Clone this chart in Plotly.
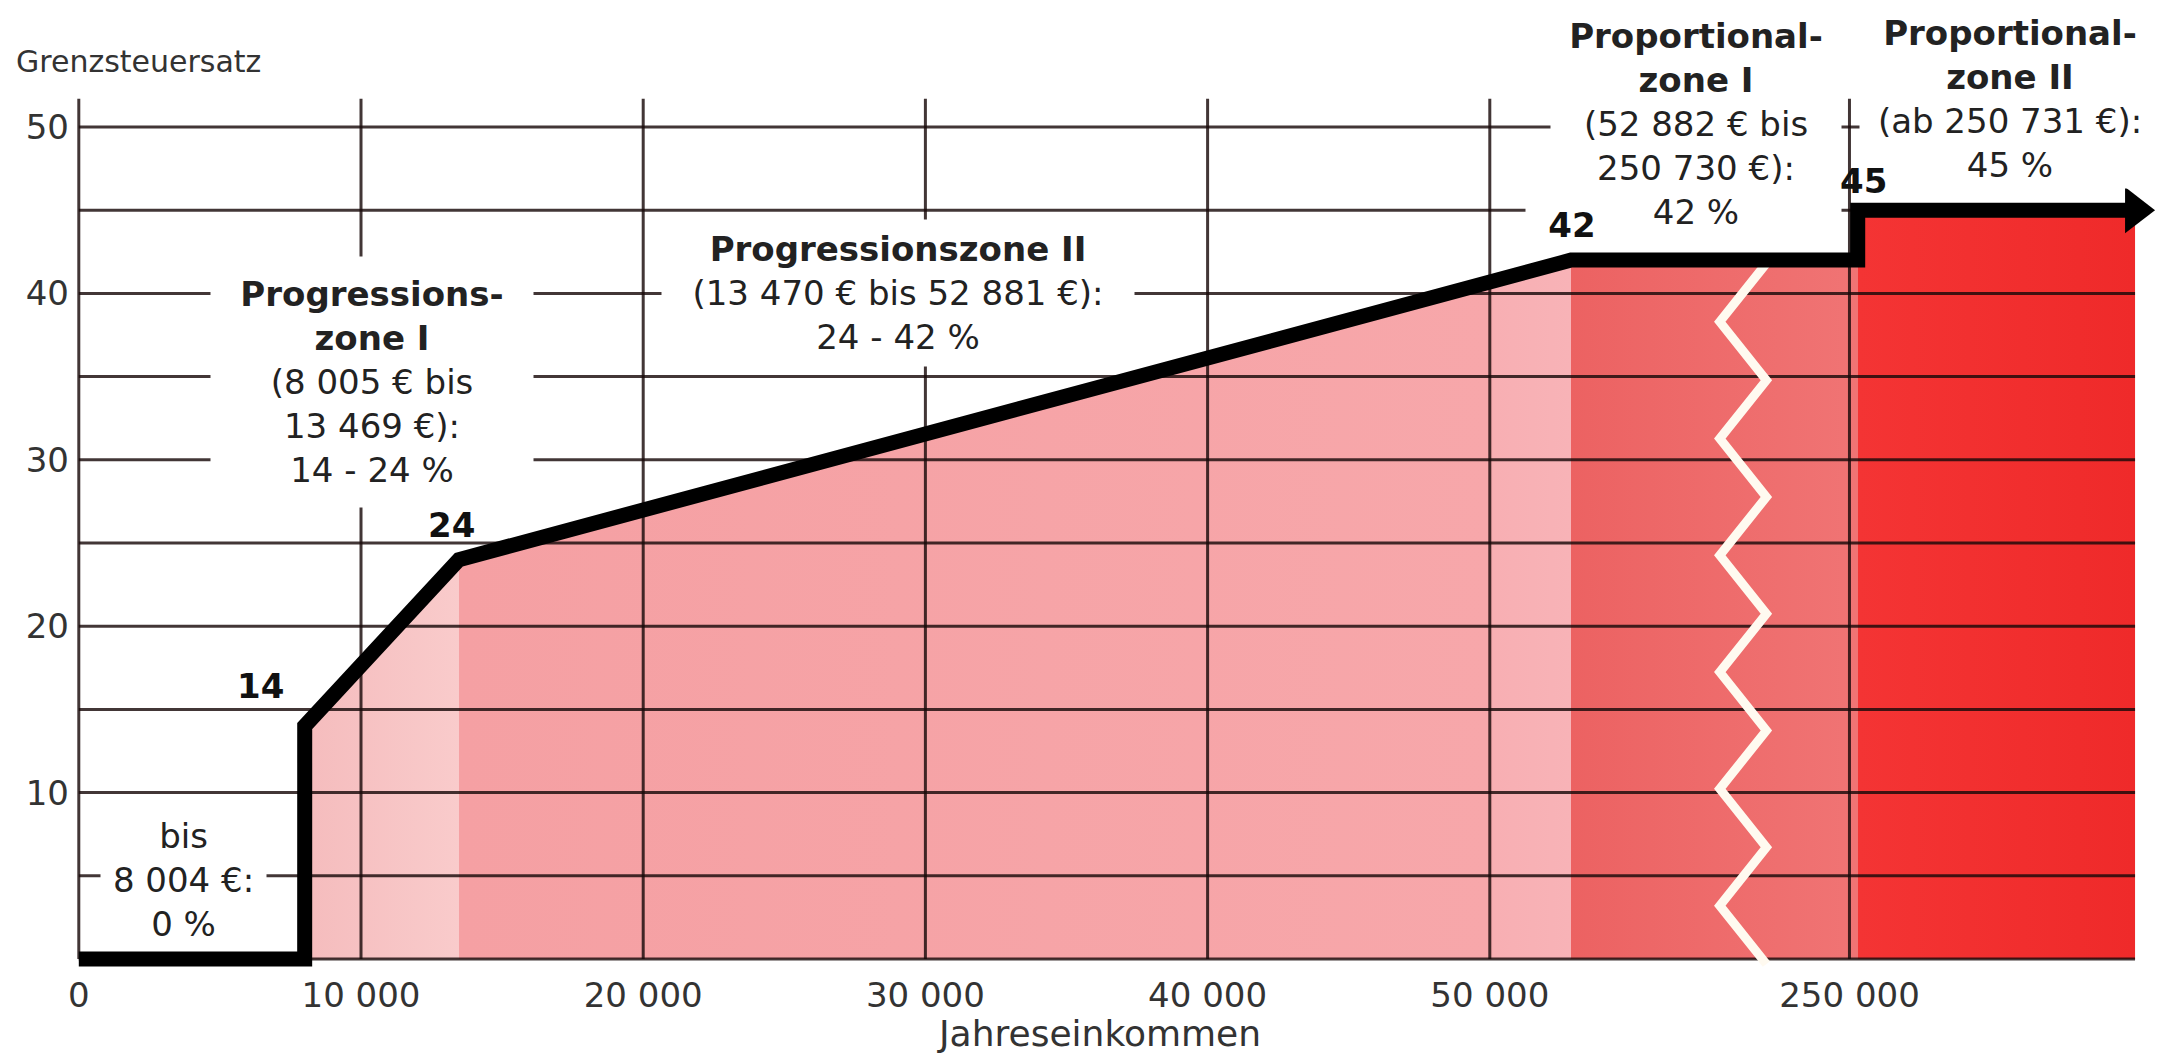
import numpy as np
import plotly.graph_objects as go

# ---------------- data ----------------
# marginal tax rate curve (income in EUR, rate in %)
income_points = [0, 8004, 8005, 13469, 52881, 250730, 250731, 275300]
rate_points = [0, 0, 14, 24, 42, 42, 45, 45]

# zone boundaries for the coloured area
zone_bounds = [8005, 13469, 50000, 52881, 250730, 250731, 275300]

# axis ticks
x_tick_values = [0, 10000, 20000, 30000, 40000, 50000, 250000]
x_tick_labels = ["0", "10 000", "20 000", "30 000", "40 000", "50 000", "250 000"]
y_tick_values = [10, 20, 30, 40, 50]
y_grid_values = [5, 10, 15, 20, 25, 30, 35, 40, 45, 50]

# value labels at the kinks
kink_labels = ["14", "24", "42", "45"]
kink_income = [8005, 13469, 52881, 250731]
kink_rate = [14, 24, 42, 45]

# ---------------- broken x axis mapping ----------------
BREAK_LO = 59000       # drawn to scale up to here
BREAK_HI = 250000      # placed right after the break
BREAK_POS_HI = 62745   # axis position of BREAK_HI
RIGHT_SCALE = 0.4


def to_axis(v):
    v = np.asarray(v, dtype=float)
    mid = BREAK_LO + (v - BREAK_LO) * (BREAK_POS_HI - BREAK_LO) / (BREAK_HI - BREAK_LO)
    right = BREAK_POS_HI + (v - BREAK_HI) * RIGHT_SCALE
    return np.where(v <= BREAK_LO, v, np.where(v <= BREAK_HI, mid, right))


X_END = float(to_axis(income_points[-1]))
GRID_TOP = 51.7

fig = go.Figure()

# ---------------- coloured area under the curve ----------------
fill_x = to_axis(income_points[2:])
fill_y = rate_points[2:]
g0, g1 = float(fill_x[0]), float(fill_x[-1])
pos = [(float(to_axis(b)) - g0) / (g1 - g0) for b in zone_bounds]
colorscale = [
    [0.0, "#f5bcbd"], [pos[1], "#f9cbcb"],
    [pos[1], "#f5a0a3"], [pos[2], "#f7a7aa"], [pos[2] + 0.002, "#f8afb3"], [pos[3], "#f8b3b7"],
    [pos[3], "#ec6262"], [pos[4], "#f07474"],
    [pos[5], "#f43434"], [1.0, "#ef2a2a"],
]
fig.add_trace(go.Scatter(
    x=fill_x, y=fill_y, mode="lines", line=dict(width=0, color="rgba(0,0,0,0)"),
    fill="tozeroy",
    fillgradient=dict(type="horizontal", colorscale=colorscale, start=g0, stop=g1),
    hoverinfo="skip",
))

# ---------------- grid lines (drawn above the area) ----------------
gx, gy = [], []
for g in [0] + y_grid_values:
    gx += [0, X_END, None]
    gy += [g, g, None]
for t in [0] + x_tick_values[1:]:
    xa = float(to_axis(t))
    gx += [xa, xa, None]
    gy += [0, GRID_TOP, None]
fig.add_trace(go.Scatter(x=gx, y=gy, mode="lines",
                         line=dict(color="rgba(25,10,10,0.82)", width=3),
                         hoverinfo="skip"))

# ---------------- axis break zigzag ----------------
n_zz = 13
zz_y = np.linspace(41.8, -0.3, n_zz)
zz_x = 58975 + 825 * np.where(np.arange(n_zz) % 2 == 0, 1, -1)
fig.add_trace(go.Scatter(x=zz_x, y=zz_y, mode="lines",
                         line=dict(color="#fffaf0", width=9), hoverinfo="skip"))

# ---------------- marginal rate curve ----------------
fig.add_trace(go.Scatter(x=to_axis(income_points), y=rate_points, mode="lines",
                         line=dict(color="black", width=15), hoverinfo="skip"))
fig.add_trace(go.Scatter(x=[X_END], y=[rate_points[-1]], mode="markers",
                         marker=dict(symbol="triangle-right", size=40, color="black",
                                     line=dict(width=0)),
                         cliponaxis=False, hoverinfo="skip"))

# ---------------- annotations ----------------
FONT = "DejaVu Sans"
txt = dict(family=FONT, size=34, color="#222")
ann = []


def box(text, x, y, w=None, h=None):
    d = dict(text=text, x=x, y=y, xref="x", yref="y", showarrow=False,
             font=txt, align="center", bgcolor="white", borderpad=0,
             xanchor="center", yanchor="middle")
    if w:
        d["width"] = w
    if h:
        d["height"] = h
    ann.append(d)


box("<b>Progressions-</b><br><b>zone I</b><br>(8 005 € bis<br>13 469 €):<br>14 - 24 %",
    10407, 34.65, 322, 250)
box("<b>Progressionszone II</b><br>(13 470 € bis 52 881 €):<br>24 - 42 %",
    29046, 40.05, 472, 146)
box("bis<br>8 004 €:<br>0 %", 3693, 4.75, 165, 128)
box("<b>Proportional-</b><br><b>zone I</b><br>(52 882 € bis<br>250 730 €):<br>42 %",
    57307, 50.15, 290, 240)
box("<b>Proportional-</b><br><b>zone II</b><br>(ab 250 731 €):<br>45 %",
    68434, 51.7, 300, 178)

shifts = [(-44, 40), (-7, 35), (1, 35), (6, 29)]
for lab, xi, yi, (sx, sy) in zip(kink_labels, kink_income, kink_rate, shifts):
    d = dict(text="<b>" + lab + "</b>", x=float(to_axis(xi)), y=yi, xref="x", yref="y",
             showarrow=False, xshift=sx, yshift=sy,
             font=dict(family=FONT, size=34, color="#111"))
    if lab == "42":
        d.update(bgcolor="white", width=90)
    ann.append(d)

# axis titles
ann.append(dict(text="Grenzsteuersatz", xref="paper", yref="paper",
                x=(14 - 70) / 2099, y=(972 - 62) / 972, xanchor="left", yanchor="middle",
                showarrow=False, font=dict(family=FONT, size=30, color="#333")))
ann.append(dict(text="Jahreseinkommen", xref="paper", yref="paper",
                x=(1099 - 70) / 2099, y=(972 - 1033) / 972, xanchor="center", yanchor="middle",
                showarrow=False, font=dict(family=FONT, size=36, color="#333")))

tickfont = dict(family=FONT, size=34, color="#333")
fig.update_layout(
    width=2169, height=1053,
    margin=dict(l=70, r=0, t=0, b=81),
    plot_bgcolor="white", paper_bgcolor="white",
    showlegend=False,
    xaxis=dict(range=[-312, 74068], tickmode="array",
               tickvals=[float(v) for v in to_axis(x_tick_values)], ticktext=x_tick_labels,
               showgrid=False, zeroline=False, showline=False, ticks="",
               tickfont=tickfont, fixedrange=True),
    yaxis=dict(range=[-0.78, 57.63], tickmode="array", tickvals=y_tick_values,
               showgrid=False, zeroline=False, showline=False, ticks="",
               tickfont=tickfont, fixedrange=True),
    annotations=ann,
)

fig.write_html("out.html", config={"displayModeBar": False},
               post_script="document.body.style.margin='0';document.body.style.overflow='hidden';")
